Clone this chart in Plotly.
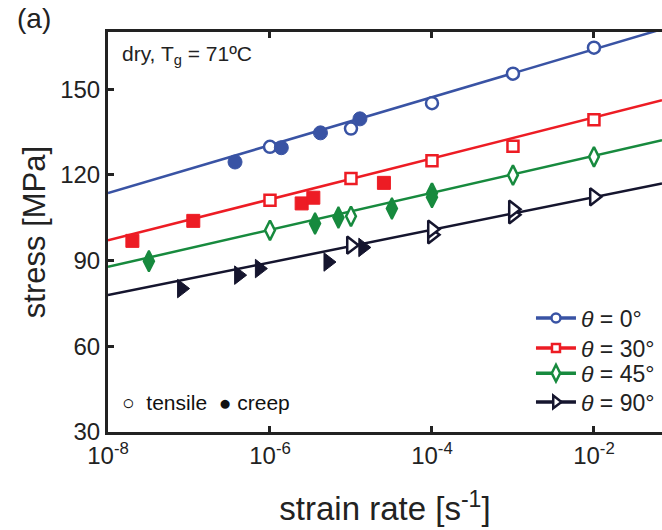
import plotly.graph_objects as go

# ---- data: stress [MPa] vs strain rate [1/s] ----
# theta = 0 deg
t0_tensile_rate = [1e-6, 1e-5, 1e-4, 1e-3, 1e-2]
t0_tensile_stress = [129.8, 136.2, 145.1, 155.4, 164.5]
t0_creep_rate = [3.7e-7, 1.38e-6, 4.2e-6, 1.29e-5]
t0_creep_stress = [124.5, 129.5, 134.7, 139.6]

# theta = 30 deg
t30_tensile_rate = [1e-6, 1e-5, 1e-4, 1e-3, 1e-2]
t30_tensile_stress = [111.1, 118.7, 124.9, 130.0, 139.3]
t30_creep_rate = [2.0e-8, 1.13e-7, 2.46e-6, 3.43e-6, 2.55e-5]
t30_creep_stress = [96.9, 103.9, 110.0, 112.0, 117.2]

# theta = 45 deg
t45_tensile_rate = [1e-6, 1e-5, 1e-4, 1e-3, 1e-2]
t45_tensile_stress = [100.6, 105.5, 113.6, 119.9, 126.3]
t45_creep_rate = [3.2e-8, 3.6e-6, 7.0e-6, 3.2e-5, 1.0e-4]
t45_creep_stress = [89.8, 103.0, 105.1, 108.2, 112.2]

# theta = 90 deg
t90_tensile_rate = [1e-5, 1e-4, 1e-4, 1e-3, 1e-3, 1e-2]
t90_tensile_stress = [95.4, 99.0, 101.0, 106.0, 108.0, 112.3]
t90_creep_rate = [8.1e-8, 4.1e-7, 7.4e-7, 5.2e-6, 1.4e-5]
t90_creep_stress = [80.2, 84.9, 87.2, 89.5, 94.6]

# linear fits in log(rate): stress at the two ends of the rate axis
fit_rate = [1e-8, 10 ** -1.16]
fit_t0 = [113.6, 171.0]
fit_t30 = [97.1, 146.1]
fit_t45 = [87.8, 132.1]
fit_t90 = [77.9, 117.0]

x_ticks = [1e-8, 1e-6, 1e-4, 1e-2]
x_tick_text = ["10<sup>-8</sup>", "10<sup>-6</sup>", "10<sup>-4</sup>", "10<sup>-2</sup>"]
y_ticks = [30, 60, 90, 120, 150]

# name, colour, symbol, data..., open size, filled size, legend marker size
series = [
    ("<i>θ</i> = 0°", "#3953a4", "circle", t0_tensile_rate, t0_tensile_stress,
     t0_creep_rate, t0_creep_stress, fit_t0, 12, 14, 9),
    ("<i>θ</i> = 30°", "#ed1c24", "square", t30_tensile_rate, t30_tensile_stress,
     t30_creep_rate, t30_creep_stress, fit_t30, 11, 13, 8),
    ("<i>θ</i> = 45°", "#178a3e", "diamond-tall", t45_tensile_rate, t45_tensile_stress,
     t45_creep_rate, t45_creep_stress, fit_t45, 14, 15, 12),
    ("<i>θ</i> = 90°", "#15152e", "triangle-right", t90_tensile_rate, t90_tensile_stress,
     t90_creep_rate, t90_creep_stress, fit_t90, 15, 16, 11),
]

# one legend per entry so the rows sit at the chosen spacing
legend_rows = [0.285, 0.21, 0.147, 0.075]

FONT = "Liberation Sans, Arial, Helvetica, sans-serif"
INK = "#222222"
fig = go.Figure()

for name, color, sym, tr, ts, cr, cs, fit, s_open, s_fill, s_leg in series:
    fig.add_trace(go.Scatter(
        x=fit_rate, y=fit, mode="lines", line=dict(color=color, width=2.5),
        showlegend=False, hoverinfo="skip"))
    fig.add_trace(go.Scatter(
        x=tr, y=ts, mode="markers", showlegend=False,
        marker=dict(symbol=sym, size=s_open, color="white",
                    line=dict(color=color, width=2.5))))
    fig.add_trace(go.Scatter(
        x=cr, y=cs, mode="markers", showlegend=False,
        marker=dict(symbol=sym, size=s_fill, color=color,
                    line=dict(color=color, width=2 if sym == "diamond-tall" else 1))))

legend_layout = {}
for i, (s, row_y) in enumerate(zip(series, legend_rows)):
    name, color, sym = s[0], s[1], s[2]
    s_leg = s[-1]
    key = "legend" if i == 0 else f"legend{i + 1}"
    fig.add_trace(go.Scatter(
        x=[None], y=[None], mode="lines+markers", name=name, legend=key,
        line=dict(color=color, width=3.5),
        marker=dict(symbol=sym, size=s_leg, color="white",
                    line=dict(color=color, width=2.5))))
    legend_layout[key] = dict(
        x=0.7635, y=row_y, xanchor="left", yanchor="middle",
        bgcolor="rgba(0,0,0,0)", font=dict(size=23, color=INK, family=FONT),
        itemwidth=40)

fig.update_layout(
    width=662, height=530,
    margin=dict(l=108, r=0, t=32, b=98),
    paper_bgcolor="white", plot_bgcolor="white",
    font=dict(family=FONT, color=INK),
    showlegend=True,
    xaxis=dict(
        type="log", range=[-8, -1.16],
        tickvals=x_ticks, ticktext=x_tick_text,
        ticks="inside", ticklen=6, tickwidth=2.5, tickcolor=INK,
        showline=True, linecolor=INK, linewidth=3, mirror="ticks",
        showgrid=False, zeroline=False,
        tickfont=dict(size=24, color=INK),
        title=dict(text="strain rate [s<sup>-1</sup>]", font=dict(size=33, color=INK),
                   standoff=30),
    ),
    yaxis=dict(
        range=[30, 170], tickvals=y_ticks,
        ticks="inside", ticklen=6, tickwidth=2.5, tickcolor=INK,
        showline=True, linecolor=INK, linewidth=3,
        showgrid=False, zeroline=False,
        tickfont=dict(size=24, color=INK),
        title=dict(text="stress [MPa]", font=dict(size=31, color=INK),
                   standoff=6),
    ),
    **legend_layout,
)

fig.add_annotation(text="(a)", xref="paper", yref="paper", x=-0.168, y=1.078,
                   xanchor="left", yanchor="top", showarrow=False,
                   font=dict(size=28, color=INK, family=FONT))
fig.add_annotation(text="dry, T<sub>g</sub> = 71ºC", xref="paper", yref="paper",
                   x=0.022, y=0.942, xanchor="left", yanchor="middle", showarrow=False,
                   font=dict(size=21, color=INK, family=FONT))
fig.add_annotation(text="○\u00a0\u00a0tensile\u00a0\u00a0●\u00a0creep", xref="paper", yref="paper",
                   x=0.022, y=0.075, xanchor="left", yanchor="middle", showarrow=False,
                   font=dict(size=21, color="#111111", family=FONT))

fig.write_html("out.html")
